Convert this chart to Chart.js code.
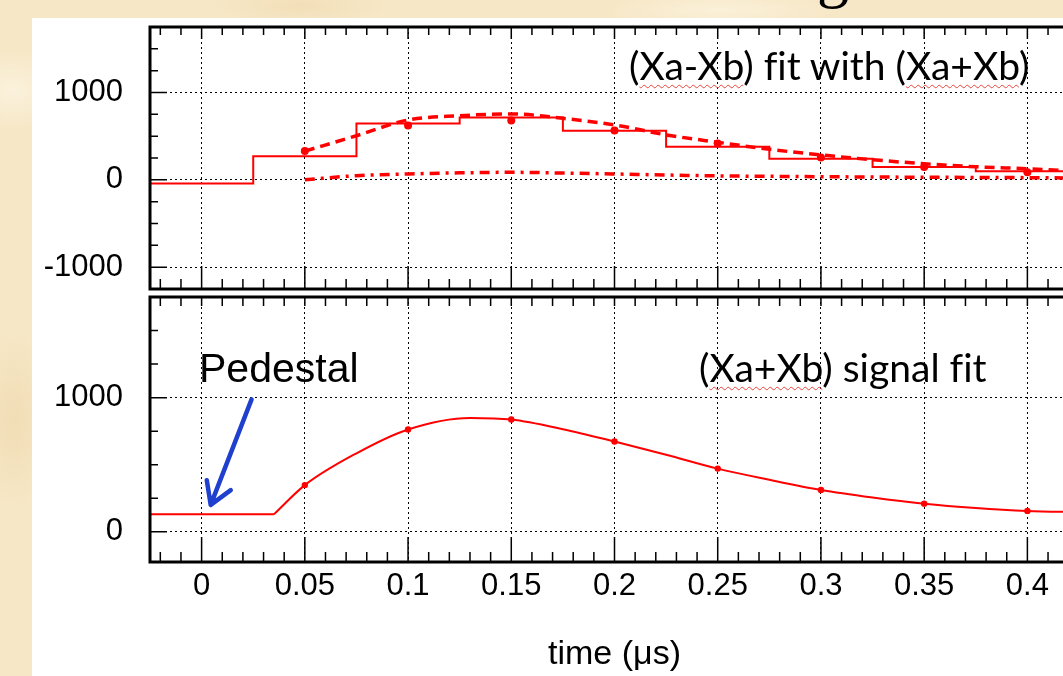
<!DOCTYPE html>
<html>
<head>
<meta charset="utf-8">
<script src="https://cdn.jsdelivr.net/npm/chart.js@4.4.1/dist/chart.umd.min.js"></script>
<style>
  html, body { margin: 0; width: 1063px; height: 676px; overflow: hidden; }
  body {
    position: relative;
    background:
      radial-gradient(ellipse 60px 40px at 12px 90px, #fbf2dc 0%, rgba(251,242,220,0) 100%),
      radial-gradient(ellipse 90px 20px at 300px 6px, #f2dfb8 0%, rgba(242,223,184,0) 100%),
      radial-gradient(ellipse 120px 18px at 720px 10px, #fbf1d9 0%, rgba(251,241,217,0) 100%),
      radial-gradient(ellipse 40px 90px at 14px 420px, #f1ddb5 0%, rgba(241,221,181,0) 100%),
      #f6e7c6;
  }
  #panel { position: absolute; left: 32px; top: 18px; width: 1100px; height: 700px; background: #fff; }
  canvas { position: absolute; }
  #topChart { left: 32px; top: 18px; width: 1051px; height: 275px; }
  #bottomChart { left: 32px; top: 293px; width: 1051px; height: 383px; }
  .note { position: absolute; white-space: nowrap; color: #000; font-variant-ligatures: none; }
  .slide { font-family: Lato, "Open Sans", sans-serif; font-size: 39px; line-height: 39px; }
  .sq { text-decoration: underline wavy #e8453c; text-decoration-thickness: 1px; text-underline-offset: 4px; }
</style>
</head>
<body>
<div class="note" style="left:817px; top:-58px; font-family:'Liberation Serif',serif; font-size:64px; line-height:64px;">g</div>
<div id="panel"></div>
<canvas id="topChart" width="1051" height="275"></canvas>
<canvas id="bottomChart" width="1051" height="383"></canvas>
<div class="note slide" style="left:629px; top:46px;">(<span class="sq">Xa-Xb</span>) fit with (<span class="sq">Xa+Xb</span>)</div>
<div class="note slide" style="left:699px; top:348px;">(<span class="sq">Xa+Xb</span>) signal fit</div>
<div class="note" style="left:199px; top:348px; font-family:'Liberation Sans',Arial,sans-serif; font-size:41px; line-height:41px;">Pedestal</div>
<script>
// axis ticks
const xTickValues = [0, 0.05, 0.1, 0.15, 0.2, 0.25, 0.3, 0.35, 0.4];
const xTickLabels = ['0', '0.05', '0.1', '0.15', '0.2', '0.25', '0.3', '0.35', '0.4'];
const topTickValues = [-1000, 0, 1000];
const topTickLabels = ['-1000', '0', '1000'];
const bottomTickValues = [0, 1000];
const bottomTickLabels = ['0', '1000'];

// top pad: (Xa-Xb) histogram, bins of 0.05
const binEdges = [-0.025, 0.025, 0.075, 0.125, 0.175, 0.225, 0.275, 0.325, 0.375, 0.425];
const diffCounts = [-42, 270, 644, 715, 562, 378, 240, 146, 97];

// sampled points (dots)
const sampleTimes = [0.05, 0.1, 0.15, 0.2, 0.25, 0.3, 0.35, 0.4];
const diffSamples = [329, 622, 678, 566, 416, 255, 146, 86];

// fit with (Xa+Xb) shape (dashed) and the small component (dash-dot)
const fitTimes = [0.05, 0.075, 0.1, 0.125, 0.15, 0.175, 0.2, 0.225, 0.25, 0.275, 0.3, 0.325, 0.35, 0.375, 0.4, 0.425];
const diffFit = [329, 505, 685, 734, 755, 704, 629, 515, 430, 350, 285, 230, 184, 150, 127, 100];
const diffSmall = [0, 48, 67, 80, 86, 78, 67, 55, 45, 40, 36, 32, 30, 27, 25, 21];

// bottom pad: (Xa+Xb) signal fit
const pedestalTimes = [-0.025, 0.035];
const pedestalLevel = [130, 130];
const signalTimes = [0.035, 0.05, 0.075, 0.1, 0.13, 0.15, 0.175, 0.2, 0.225, 0.25, 0.275, 0.3, 0.325, 0.35, 0.375, 0.4, 0.425];
const signalFit = [130, 348, 585, 763, 849, 837, 765, 673, 575, 471, 388, 312, 256, 210, 178, 156, 146];
const signalSamples = [348, 763, 837, 673, 471, 312, 210, 156];

const RED = '#ff0000';
const labelFont = {family: "'Liberation Sans', Arial, Helvetica, sans-serif", size: 31};

function pts(xs, ys) {
  return xs.map((x, i) => ({x: x, y: ys[Math.min(i, ys.length - 1)]}));
}

// no extra room for overflowing labels, the pads sit edge to edge
function noPadding(s) {
  s.paddingTop = 0; s.paddingBottom = 0; s.paddingLeft = 0; s.paddingRight = 0;
}

// frame of the pad with inward tick marks (ROOT style)
const framePlugin = {
  id: 'frame',
  afterDraw(chart, args, o) {
    const {ctx, chartArea: a, scales: {x, y}} = chart;
    ctx.save();
    ctx.strokeStyle = '#000';
    ctx.lineWidth = 1.5;
    ctx.beginPath();
    for (let i = Math.ceil(x.min * 100 - 1e-6); i <= Math.floor(x.max * 100 + 1e-6); i++) {
      const px = x.getPixelForValue(i / 100);
      const major = i % 5 === 0;
      ctx.moveTo(px, a.top);
      ctx.lineTo(px, a.top + (major ? o.topMajor : o.topMinor));
      ctx.moveTo(px, a.bottom);
      ctx.lineTo(px, a.bottom - (major ? o.bottomMajor : o.bottomMinor));
    }
    for (let j = Math.ceil(y.min / 250); j <= Math.floor(y.max / 250); j++) {
      const py = y.getPixelForValue(j * 250);
      ctx.moveTo(a.left, py);
      ctx.lineTo(a.left + (j % 4 === 0 ? 17 : 8), py);
    }
    ctx.stroke();
    ctx.lineWidth = 3;
    ctx.strokeRect(a.left, a.top, a.right - a.left, a.bottom - a.top);
    ctx.restore();
  }
};

// blue arrow pointing at the pedestal
const arrowPlugin = {
  id: 'arrow',
  afterDatasetsDraw(chart, args, o) {
    if (!o.tip) return;
    const {ctx, scales: {x, y}} = chart;
    const p = v => [x.getPixelForValue(v[0]), y.getPixelForValue(v[1])];
    const tip = p(o.tip);
    ctx.save();
    ctx.strokeStyle = o.color;
    ctx.lineWidth = o.width;
    ctx.lineCap = 'round';
    ctx.lineJoin = 'round';
    ctx.beginPath();
    ctx.moveTo(...p(o.tail));
    ctx.lineTo(...tip);
    o.wings.forEach(w => { ctx.moveTo(...p(w)); ctx.lineTo(...tip); });
    ctx.stroke();
    ctx.restore();
  }
};

function xAxis(withLabels) {
  return {
    type: 'linear',
    min: -0.025,
    max: 0.425,
    grid: {color: '#000', lineWidth: 1, drawTicks: false},
    border: {display: false, dash: [2, 3]},
    afterBuildTicks: s => { s.ticks = xTickValues.map(v => ({value: v})); },
    afterFit: s => { s.height = withLabels ? 114 : 0; noPadding(s); },
    ticks: {
      display: withLabels, autoSkip: false, maxRotation: 0, padding: 6,
      color: '#000', font: labelFont,
      callback: (v, i) => xTickLabels[i]
    },
    title: {
      display: withLabels, text: 'time (μs)', color: '#000',
      font: {family: labelFont.family, size: 34}, padding: {top: 0, bottom: 1}
    }
  };
}

function yAxis(min, max, values, labels) {
  return {
    type: 'linear',
    min: min,
    max: max,
    grid: {color: '#000', lineWidth: 1, drawTicks: false},
    border: {display: false, dash: [2, 3]},
    afterBuildTicks: s => { s.ticks = values.map(v => ({value: v})); },
    afterFit: s => { s.width = 118; noPadding(s); },
    ticks: {padding: 27, color: '#000', font: labelFont, callback: (v, i) => labels[i]}
  };
}

const common = {
  responsive: false,
  maintainAspectRatio: false,
  animation: false,
  events: [],
  elements: {line: {fill: false}}
};

new Chart(document.getElementById('topChart'), {
  type: 'line',
  data: {
    datasets: [
      {data: pts(binEdges, diffCounts), borderColor: RED, borderWidth: 2, stepped: 'before', pointRadius: 0},
      {data: pts(fitTimes, diffFit), borderColor: RED, borderWidth: 3.5, borderDash: [10, 6], pointRadius: 0, cubicInterpolationMode: 'monotone'},
      {data: pts(fitTimes, diffSmall), borderColor: RED, borderWidth: 3.5, borderDash: [10, 6, 3, 6], pointRadius: 0, cubicInterpolationMode: 'monotone'},
      {data: pts(sampleTimes, diffSamples), showLine: false, pointRadius: 4, pointBackgroundColor: RED, pointBorderWidth: 0}
    ]
  },
  options: Object.assign({}, common, {
    layout: {padding: {top: 9, left: 0, right: 0, bottom: 0}},
    scales: {x: xAxis(false), y: yAxis(-1250, 1750, topTickValues, topTickLabels)},
    plugins: {
      legend: {display: false}, tooltip: {enabled: false},
      frame: {topMajor: 12, topMinor: 8, bottomMajor: 23, bottomMinor: 10}
    }
  }),
  plugins: [framePlugin]
});

new Chart(document.getElementById('bottomChart'), {
  type: 'line',
  data: {
    datasets: [
      {data: pts(pedestalTimes, pedestalLevel), borderColor: RED, borderWidth: 2, pointRadius: 0},
      {data: pts(signalTimes, signalFit), borderColor: RED, borderWidth: 2, pointRadius: 0, cubicInterpolationMode: 'monotone'},
      {data: pts(sampleTimes, signalSamples), showLine: false, pointRadius: 3.2, pointBackgroundColor: RED, pointBorderWidth: 0}
    ]
  },
  options: Object.assign({}, common, {
    layout: {padding: 0},
    scales: {x: xAxis(true), y: yAxis(-225, 1750, bottomTickValues, bottomTickLabels)},
    plugins: {
      legend: {display: false}, tooltip: {enabled: false},
      frame: {topMajor: 9, topMinor: 9, bottomMajor: 25, bottomMinor: 10},
      arrow: {
        tail: [0.0242, 987], tip: [0.0044, 201],
        wings: [[0.0025, 385], [0.0141, 311]],
        color: '#1f3fcf', width: 4.5
      }
    }
  }),
  plugins: [framePlugin, arrowPlugin]
});
</script>
</body>
</html>
